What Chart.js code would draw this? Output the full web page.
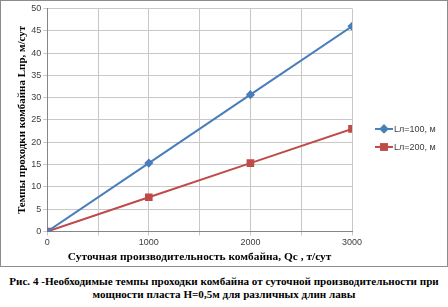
<!DOCTYPE html>
<html>
<head>
<meta charset="utf-8">
<script src="https://cdn.jsdelivr.net/npm/chart.js@4"></script>
<style>
  body { margin: 0; background: #fff; width: 448px; height: 307px; overflow: hidden; }
  #frame { position: absolute; left: 0; top: 0; width: 446px; height: 265px; border: 1px solid #8c8c8c; }
  #caption { position: absolute; left: 0; top: 275px; width: 448px; text-align: center;
             font: bold 11.1px "Liberation Serif", serif; line-height: 13px; color: #000; }
</style>
</head>
<body>
<div id="frame"><canvas id="chart" width="446" height="265"></canvas></div>
<div id="caption">Рис. 4 -Необходимые темпы проходки комбайна от суточной производительности при<br>мощности пласта Н=0,5м для различных длин лавы</div>
<script>
// data
const productivity = [0, 1000, 2000, 3000];      // Qc, т/сут
const rateL100 = [0, 15.33, 30.67, 46];         // Lпр at Lл=100 м
const rateL200 = [0, 7.67, 15.33, 23];          // Lпр at Lл=200 м
const seriesNames = ['Lл=100, м', 'Lл=200, м'];
const seriesColors = ['#4a7ebb', '#be4b48'];
const seriesMarkers = ['rectRot', 'rect'];
const markerSizes = [3.2, 4];

const tickFont = { family: 'Liberation Sans', size: 9 };

// Excel-style legend at the right: line + marker, then the name
const sideLegend = {
    id: 'sideLegend',
    afterDraw(chart) {
        const ctx = chart.ctx;
        const area = chart.chartArea;
        const x0 = area.right + 23;
        const yMid = (area.top + area.bottom) / 2 + 9;
        ctx.save();
        chart.data.datasets.forEach((ds, i) => {
            const y = yMid + i * 18;
            ctx.strokeStyle = ds.borderColor;
            ctx.lineWidth = 2;
            ctx.beginPath(); ctx.moveTo(x0, y); ctx.lineTo(x0 + 18, y); ctx.stroke();
            ctx.fillStyle = ds.backgroundColor;
            Chart.helpers.drawPoint(ctx, { pointStyle: ds.pointStyle, radius: ds.pointRadius, borderWidth: 1 }, x0 + 9, y);
            ctx.fill();
            ctx.stroke();
            ctx.fillStyle = '#404040';
            ctx.font = '9px "Liberation Sans"';
            ctx.textBaseline = 'middle';
            ctx.fillText(ds.label, x0 + 19, y + 0.5);
        });
        ctx.restore();
    }
};

const series = [rateL100, rateL200];
const datasets = series.map((vals, i) => ({
    label: seriesNames[i],
    data: productivity.map((q, k) => ({ x: q, y: vals[k] })),
    showLine: true,
    borderColor: seriesColors[i],
    backgroundColor: seriesColors[i],
    borderWidth: 2,
    pointStyle: seriesMarkers[i],
    pointRadius: markerSizes[i],
    pointHoverRadius: markerSizes[i]
}));

new Chart(document.getElementById('chart').getContext('2d'), {
    type: 'scatter',
    data: { datasets: datasets },
    plugins: [sideLegend],
    options: {
        responsive: false,
        animation: false,
        layout: { padding: { top: 4, right: 95, bottom: 2, left: 15 } },
        plugins: {
            tooltip: { enabled: false },
            legend: { display: false }
        },
        scales: {
            x: {
                type: 'linear',
                min: 0, max: 3000,
                ticks: {
                    stepSize: 500,
                    padding: 2,
                    color: '#404040',
                    font: tickFont,
                    maxRotation: 0,
                    callback: v => (v % 1000 === 0 ? v : '')
                },
                grid: { color: '#c8c8c8', tickLength: 4 },
                border: { color: '#868686' },
                title: { display: true, text: 'Суточная производительность комбайна, Qc , т/сут',
                         font: { family: 'Liberation Serif', size: 11.4, weight: 'bold' },
                         color: '#000', padding: { top: 0, bottom: 0 } }
            },
            y: {
                min: 0, max: 50,
                ticks: { stepSize: 5, padding: 2, color: '#404040', font: tickFont },
                grid: { color: '#c8c8c8', tickLength: 4 },
                border: { color: '#868686' },
                title: { display: true, text: 'Темпы проходки комбайна Lпр, м/сут',
                         font: { family: 'Liberation Serif', size: 11, weight: 'bold' },
                         color: '#000', padding: { top: 0, bottom: 0 } }
            }
        }
    }
});
</script>
</body>
</html>
